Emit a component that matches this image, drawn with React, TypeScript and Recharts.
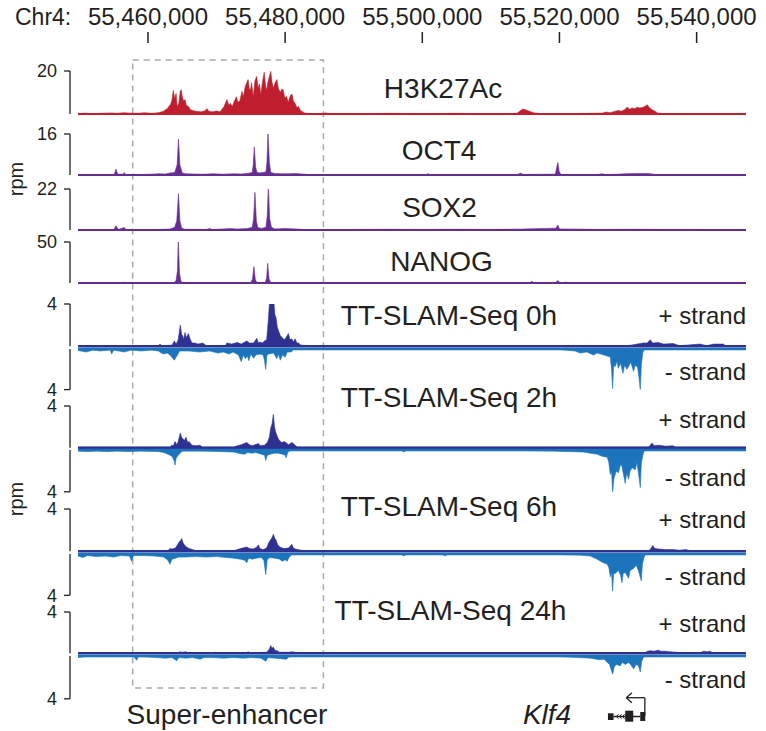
import React from 'react';
import {
  ComposedChart,
  Area,
  XAxis,
  YAxis,
  ReferenceLine,
  ReferenceArea,
} from 'recharts';

// genomic positions in kb on chr4
type Pt = [number, number];

const X_MIN = 55448.63;
const X_MAX = 55547.2;
const TRACK_START = 55449.8;
const TRACK_END = 55547.2;

const axisTicks = [55460, 55480, 55500, 55520, 55540];
const superEnhancer = [55457.77, 55485.58];
const klf4Exons: [number, number][] = [
  [55527.07, 55527.89],
  [55529.59, 55530.76],
  [55531.78, 55532.51],
];
const klf4Tss = 55532.45;

const h3k27ac: Pt[] = [
  [55449.8, 0.2], [55451.0, 0.4], [55451.5, 0.2], [55453.0, 0.3], [55454.5, 0.5], [55455.5, 0.3],
  [55456.5, 0.6], [55457.5, 0.4], [55458.5, 0.3], [55459.5, 0.6], [55460.5, 0.3], [55461.5, 0.6],
  [55462.2, 1.2], [55462.8, 2.5], [55463.3, 4.5], [55463.5, 6.5], [55463.7, 11.0], [55463.9, 7.0],
  [55464.1, 9.5], [55464.25, 3.5], [55464.5, 5.0], [55464.7, 10.5], [55464.85, 11.3], [55465.0, 8.0],
  [55465.2, 6.0], [55465.4, 6.7], [55465.6, 4.0], [55465.9, 3.5], [55466.2, 2.0], [55466.6, 1.5],
  [55467.2, 1.2], [55467.8, 1.0], [55468.3, 1.5], [55468.6, 2.5], [55468.9, 1.2], [55469.5, 1.0],
  [55470.0, 1.4], [55470.5, 1.0], [55470.75, 2.0], [55471.1, 3.5], [55471.5, 6.7], [55471.8, 4.0],
  [55472.0, 5.0], [55472.3, 3.5], [55472.6, 6.0], [55472.9, 8.0], [55473.1, 5.5], [55473.4, 6.0],
  [55473.7, 10.5], [55473.9, 8.0], [55474.2, 13.0], [55474.4, 14.5], [55474.6, 16.0], [55474.8, 11.0],
  [55475.0, 12.0], [55475.1, 14.5], [55475.35, 8.0], [55475.6, 15.5], [55475.85, 17.5], [55476.05, 12.0],
  [55476.25, 14.0], [55476.45, 9.0], [55476.7, 15.0], [55476.95, 19.4], [55477.15, 13.0], [55477.3, 11.0],
  [55477.5, 15.0], [55477.9, 19.8], [55478.1, 14.5], [55478.3, 12.0], [55478.55, 14.5], [55478.8, 16.0],
  [55479.0, 12.0], [55479.3, 10.0], [55479.5, 11.5], [55479.7, 11.3], [55479.95, 7.5], [55480.2, 8.2],
  [55480.45, 5.5], [55480.75, 8.5], [55481.0, 9.3], [55481.2, 6.0], [55481.45, 5.0], [55481.7, 3.0],
  [55481.95, 3.5], [55482.2, 1.8], [55482.45, 1.2], [55482.9, 0.4], [55483.5, 0.2], [55485.0, 0.2],
  [55486.0, 0.5], [55486.3, 0.2], [55490.0, 0.2], [55495.0, 0.3], [55500.0, 0.2], [55505.0, 0.3],
  [55510.0, 0.2], [55513.8, 0.3], [55514.3, 1.5], [55514.7, 2.3], [55515.2, 1.8], [55515.8, 1.0],
  [55516.2, 0.6], [55517.0, 0.2], [55522.0, 0.2], [55526.2, 0.4], [55526.8, 0.9], [55527.4, 0.6],
  [55528.0, 1.2], [55528.6, 1.6], [55529.0, 1.3], [55529.5, 2.0], [55529.9, 3.2], [55530.2, 2.2],
  [55530.6, 2.8], [55531.0, 2.5], [55531.3, 3.1], [55531.7, 2.8], [55532.1, 3.0], [55532.5, 3.6],
  [55532.8, 4.3], [55533.1, 3.0], [55533.5, 2.0], [55534.0, 1.2], [55534.3, 0.5], [55535.0, 0.2],
  [55547.2, 0.2],
];

const oct4: Pt[] = [
  [55449.8, 0.1], [55454.5, 0.2], [55455.1, 0.3], [55455.33, 2.3], [55455.6, 0.3], [55456.4, 0.3],
  [55456.54, 1.0], [55456.7, 0.2], [55458.0, 0.1], [55460.5, 0.3], [55461.5, 0.5], [55462.5, 0.4],
  [55463.3, 0.8], [55463.9, 1.0], [55464.25, 4.0], [55464.45, 14.0], [55464.65, 4.0], [55465.0, 0.8],
  [55465.5, 0.5], [55466.5, 0.4], [55468.0, 0.3], [55469.5, 0.5], [55471.0, 0.3], [55472.5, 0.5],
  [55473.5, 0.4], [55474.5, 0.6], [55475.2, 1.0], [55475.35, 4.0], [55475.5, 11.0], [55475.7, 3.0],
  [55475.9, 1.0], [55476.3, 0.8], [55477.2, 1.2], [55477.35, 5.0], [55477.5, 16.5], [55477.7, 5.0],
  [55477.9, 1.0], [55478.5, 0.6], [55479.5, 0.5], [55480.5, 0.5], [55481.5, 0.6], [55482.5, 0.4],
  [55483.5, 0.1], [55500.5, 0.1], [55500.85, 0.5], [55501.2, 0.1], [55513.8, 0.1], [55514.3, 0.7],
  [55514.8, 0.2], [55519.4, 0.3], [55519.6, 3.0], [55519.77, 4.9], [55519.95, 1.5], [55520.2, 0.2],
  [55525.5, 0.1], [55526.2, 0.5], [55526.8, 0.1], [55528.5, 0.3], [55529.5, 0.5], [55531.5, 0.6],
  [55533.0, 0.6], [55534.0, 0.2], [55547.2, 0.1],
];

const sox2: Pt[] = [
  [55449.8, 0.1], [55455.0, 0.2], [55455.33, 2.2], [55455.7, 0.3], [55456.54, 1.4], [55456.8, 0.2],
  [55459.0, 0.2], [55461.5, 0.3], [55463.2, 0.5], [55463.9, 1.5], [55464.2, 5.0], [55464.45, 19.5],
  [55464.65, 5.0], [55464.9, 1.2], [55465.3, 0.4], [55468.5, 0.3], [55469.0, 0.8], [55469.4, 0.2],
  [55471.0, 0.6], [55472.0, 0.8], [55473.0, 0.5], [55474.5, 0.8], [55475.2, 1.5], [55475.4, 6.0],
  [55475.6, 20.2], [55475.8, 5.0], [55476.0, 1.5], [55476.5, 0.8], [55477.2, 1.5], [55477.4, 8.0],
  [55477.55, 23.8], [55477.75, 6.0], [55478.0, 1.5], [55478.5, 0.6], [55480.0, 0.8], [55481.5, 0.6],
  [55482.5, 0.3], [55485.0, 0.1], [55490.0, 0.3], [55495.0, 0.4], [55500.0, 0.3], [55505.0, 0.4],
  [55510.0, 0.3], [55514.5, 0.5], [55519.5, 1.0], [55519.77, 2.7], [55520.0, 0.6], [55522.0, 0.5],
  [55526.0, 0.3], [55531.0, 0.4], [55536.0, 0.3], [55540.0, 0.3], [55547.2, 0.2],
];

const nanog: Pt[] = [
  [55449.8, 0.1], [55456.3, 0.1], [55456.54, 1.2], [55456.8, 0.1], [55463.8, 0.5], [55464.1, 3.0],
  [55464.3, 15.0], [55464.42, 53.0], [55464.6, 12.0], [55464.8, 2.0], [55465.1, 0.3], [55475.0, 0.5],
  [55475.25, 5.0], [55475.45, 20.0], [55475.65, 4.0], [55475.9, 0.5], [55477.1, 0.5], [55477.3, 6.0],
  [55477.46, 24.0], [55477.65, 5.0], [55477.9, 0.5], [55478.3, 0.1], [55515.6, 0.1], [55515.98, 2.0],
  [55516.3, 0.1], [55519.4, 0.3], [55519.77, 3.0], [55520.1, 0.2], [55521.0, 1.0], [55521.3, 0.1],
  [55547.2, 0.1],
];

const slam0hPlus: Pt[] = [
  [55449.8, 0.05], [55461.5, 0.05], [55461.75, 0.2], [55462.0, 0.05], [55463.5, 0.1], [55463.84, 0.5],
  [55464.1, 0.2], [55464.4, 0.6], [55464.71, 2.0], [55464.9, 1.1], [55465.06, 1.0], [55465.2, 0.6],
  [55465.4, 1.3], [55465.6, 0.8], [55465.88, 1.2], [55466.13, 0.7], [55466.4, 0.3], [55466.8, 0.3],
  [55467.3, 0.2], [55468.0, 0.3], [55468.5, 0.05], [55471.3, 0.05], [55471.5, 0.3], [55472.2, 0.2],
  [55473.0, 0.35], [55473.6, 0.2], [55474.4, 0.5], [55474.8, 0.3], [55475.4, 0.3], [55475.86, 0.75],
  [55476.1, 0.3], [55476.34, 0.4], [55476.7, 0.3], [55476.97, 0.5], [55477.3, 0.6], [55477.55, 2.5],
  [55477.7, 4.0], [55478.05, 4.05], [55478.38, 4.0], [55478.5, 3.0], [55478.67, 2.7], [55478.85, 1.8],
  [55479.01, 1.5], [55479.3, 1.0], [55479.51, 0.85], [55479.9, 0.6], [55480.2, 0.9], [55480.47, 1.2],
  [55480.7, 0.6], [55480.97, 0.7], [55481.2, 0.4], [55481.45, 0.7], [55481.7, 0.3], [55481.93, 0.3],
  [55482.3, 0.1], [55483.4, 0.05], [55530.0, 0.05], [55532.2, 0.3], [55532.8, 0.3], [55533.24, 0.6],
  [55533.6, 0.3], [55534.4, 0.35], [55535.2, 0.2], [55536.6, 0.25], [55537.5, 0.05], [55540.5, 0.2],
  [55541.5, 0.05], [55542.5, 0.2], [55543.9, 0.2], [55544.2, 0.05], [55547.2, 0.05],
];

const slam0hMinus: Pt[] = [
  [55449.8, -0.15], [55451.0, -0.3], [55452.0, -0.1], [55453.0, -0.2], [55454.5, -0.1], [55454.7, -0.5],
  [55455.0, -0.1], [55456.5, -0.3], [55457.6, -0.1], [55459.0, -0.2], [55460.5, -0.1], [55461.5, -0.2],
  [55462.2, -0.5], [55462.8, -0.4], [55463.2, -0.6], [55463.6, -0.9], [55463.84, -1.1], [55464.1, -0.8],
  [55464.3, -0.6], [55464.6, -0.2], [55466.0, -0.2], [55467.5, -0.3], [55469.0, -0.2], [55470.2, -0.4],
  [55471.0, -0.3], [55471.8, -0.5], [55472.4, -0.3], [55473.2, -0.6], [55473.6, -1.25], [55473.9, -0.6],
  [55474.2, -0.95], [55474.5, -0.7], [55474.7, -1.15], [55475.0, -0.5], [55475.4, -0.9], [55475.7, -0.6],
  [55476.3, -0.5], [55476.8, -0.6], [55477.0, -1.2], [55477.17, -2.0], [55477.35, -0.6], [55477.6, -0.5],
  [55478.3, -0.4], [55478.8, -0.95], [55479.0, -0.5], [55479.3, -1.1], [55479.6, -0.6], [55480.0, -0.8],
  [55480.3, -0.3], [55480.9, -0.3], [55481.2, -0.05], [55520.0, -0.05], [55522.3, -0.2], [55523.0, -0.4],
  [55524.0, -0.3], [55524.97, -0.6], [55525.5, -0.4], [55526.5, -0.6], [55527.41, -0.8], [55527.6, -2.0],
  [55527.75, -3.9], [55527.9, -1.7], [55528.14, -1.7], [55528.4, -1.2], [55528.58, -1.9], [55528.9, -1.4],
  [55529.26, -2.4], [55529.5, -1.6], [55529.84, -2.0], [55530.1, -1.7], [55530.4, -1.3], [55530.81, -2.2],
  [55531.05, -1.6], [55531.4, -1.8], [55531.6, -2.8], [55531.79, -4.1], [55531.95, -1.5], [55532.18, -0.3],
  [55532.4, -0.05], [55547.2, -0.05],
];

const slam2hPlus: Pt[] = [
  [55449.8, 0.05], [55463.2, 0.05], [55463.46, 0.25], [55463.7, 0.2], [55463.94, 0.6], [55464.2, 0.3],
  [55464.4, 0.6], [55464.71, 1.4], [55464.9, 1.0], [55465.06, 0.9], [55465.3, 0.7], [55465.54, 1.0],
  [55465.8, 0.5], [55466.0, 0.6], [55466.4, 0.25], [55467.0, 0.2], [55467.59, 0.25], [55467.9, 0.05],
  [55472.5, 0.05], [55473.0, 0.2], [55473.6, 0.3], [55474.0, 0.4], [55474.4, 0.5], [55474.8, 0.3],
  [55475.2, 0.2], [55475.6, 0.3], [55476.09, 0.4], [55476.4, 0.2], [55476.97, 0.25], [55477.4, 0.5],
  [55477.7, 1.0], [55477.9, 1.9], [55478.1, 2.3], [55478.28, 3.2], [55478.45, 2.0], [55478.6, 1.55],
  [55478.9, 1.0], [55479.1, 0.75], [55479.5, 0.5], [55479.9, 0.6], [55480.5, 0.3], [55480.97, 0.5],
  [55481.2, 0.4], [55481.45, 0.25], [55481.8, 0.05], [55533.0, 0.05], [55533.3, 0.3], [55533.49, 0.45],
  [55533.8, 0.2], [55534.5, 0.25], [55535.5, 0.15], [55536.5, 0.2], [55537.0, 0.05], [55547.2, 0.05],
];

const slam2hMinus: Pt[] = [
  [55449.8, -0.1], [55451.0, -0.15], [55452.5, -0.1], [55454.0, -0.15], [55455.5, -0.1], [55457.0, -0.15],
  [55459.0, -0.1], [55461.5, -0.15], [55462.3, -0.25], [55462.9, -0.4], [55463.5, -0.6], [55463.8, -1.0],
  [55463.94, -1.45], [55464.1, -0.8], [55464.4, -0.5], [55464.7, -0.3], [55465.0, -0.1], [55468.0, -0.1],
  [55470.5, -0.15], [55472.5, -0.2], [55473.5, -0.35], [55474.1, -0.4], [55474.5, -0.25], [55475.2, -0.3],
  [55475.7, -0.25], [55476.5, -0.4], [55477.0, -0.5], [55477.17, -1.0], [55477.4, -0.5], [55477.8, -0.4],
  [55478.4, -0.3], [55479.0, -0.3], [55479.6, -0.4], [55480.0, -0.5], [55480.14, -0.75], [55480.4, -0.2],
  [55480.8, -0.05], [55497.0, -0.05], [55497.3, -0.2], [55497.6, -0.05], [55515.0, -0.05], [55519.0, -0.1],
  [55523.5, -0.2], [55524.97, -0.35], [55525.5, -0.4], [55526.2, -0.6], [55526.97, -0.7], [55527.2, -1.2],
  [55527.41, -2.35], [55527.6, -2.0], [55527.75, -4.1], [55527.95, -2.7], [55528.3, -2.0], [55528.6, -2.2],
  [55528.9, -1.4], [55529.11, -1.55], [55529.35, -2.4], [55529.59, -3.2], [55529.8, -2.2], [55530.08, -2.8],
  [55530.3, -2.0], [55530.6, -1.7], [55531.05, -1.9], [55531.3, -1.2], [55531.6, -2.6], [55531.79, -3.6],
  [55531.95, -1.2], [55532.2, -0.4], [55532.4, -0.05], [55547.2, -0.05],
];

const slam6hPlus: Pt[] = [
  [55449.8, 0.05], [55462.9, 0.05], [55463.21, 0.25], [55463.5, 0.2], [55464.0, 0.3], [55464.3, 0.6],
  [55464.57, 0.9], [55464.75, 1.0], [55464.92, 1.2], [55465.1, 0.8], [55465.3, 0.6], [55465.6, 0.4],
  [55466.0, 0.25], [55466.5, 0.15], [55467.0, 0.05], [55472.5, 0.05], [55473.0, 0.15], [55473.8, 0.3],
  [55474.4, 0.4], [55474.8, 0.25], [55475.3, 0.2], [55475.8, 0.35], [55476.09, 0.6], [55476.3, 0.25],
  [55476.8, 0.15], [55477.3, 0.3], [55477.6, 0.8], [55477.9, 1.1], [55478.1, 1.3], [55478.28, 1.6],
  [55478.5, 1.2], [55478.67, 1.05], [55478.9, 0.6], [55479.2, 0.4], [55479.8, 0.25], [55480.5, 0.3],
  [55480.97, 0.65], [55481.2, 0.3], [55481.5, 0.2], [55482.3, 0.1], [55482.6, 0.05], [55533.0, 0.05],
  [55533.3, 0.2], [55533.63, 0.55], [55533.9, 0.25], [55534.5, 0.2], [55535.5, 0.15], [55536.6, 0.15],
  [55537.5, 0.1], [55538.5, 0.15], [55539.0, 0.05], [55547.2, 0.05],
];

const slam6hMinus: Pt[] = [
  [55449.8, -0.2], [55450.5, -0.35], [55451.2, -0.15], [55452.5, -0.25], [55453.8, -0.2], [55455.0, -0.3],
  [55456.0, -0.15], [55457.3, -0.2], [55457.62, -0.7], [55457.9, -0.15], [55459.5, -0.15], [55461.0, -0.2],
  [55462.3, -0.3], [55462.9, -0.6], [55463.21, -1.0], [55463.5, -0.5], [55464.0, -0.4], [55464.5, -0.3],
  [55465.5, -0.3], [55467.0, -0.25], [55468.5, -0.3], [55470.0, -0.25], [55471.5, -0.35], [55472.5, -0.4],
  [55473.5, -0.5], [55474.1, -0.6], [55474.4, -0.85], [55474.7, -0.4], [55475.2, -0.5], [55475.8, -0.4],
  [55476.5, -0.35], [55476.9, -0.6], [55477.17, -2.0], [55477.4, -0.5], [55477.8, -0.35], [55478.5, -0.4],
  [55479.2, -0.5], [55479.6, -0.7], [55480.0, -0.55], [55480.3, -0.7], [55480.6, -0.3], [55481.0, -0.05],
  [55497.0, -0.05], [55497.3, -0.2], [55497.6, -0.05], [55503.0, -0.05], [55503.3, -0.2], [55503.6, -0.05],
  [55520.0, -0.05], [55523.0, -0.1], [55524.5, -0.2], [55525.5, -0.5], [55526.24, -0.8], [55526.97, -1.0],
  [55527.2, -1.3], [55527.41, -2.2], [55527.6, -1.8], [55527.75, -3.6], [55527.9, -1.9], [55528.14, -1.9],
  [55528.58, -1.6], [55528.9, -2.0], [55529.11, -2.8], [55529.3, -1.9], [55529.59, -1.8], [55530.08, -2.35],
  [55530.3, -1.6], [55530.8, -1.4], [55531.2, -1.1], [55531.5, -1.6], [55531.93, -2.6], [55532.1, -1.0],
  [55532.3, -0.4], [55532.5, -0.05], [55547.2, -0.05],
];

const slam24hPlus: Pt[] = [
  [55449.8, 0.05], [55464.4, 0.05], [55464.67, 0.15], [55465.0, 0.1], [55465.54, 0.15], [55465.8, 0.05],
  [55469.6, 0.05], [55469.8, 0.1], [55470.2, 0.05], [55474.3, 0.05], [55474.6, 0.15], [55474.9, 0.05],
  [55477.3, 0.1], [55477.7, 0.4], [55477.9, 0.75], [55478.1, 0.5], [55478.28, 0.6], [55478.5, 0.3],
  [55478.8, 0.25], [55479.2, 0.1], [55480.5, 0.1], [55481.0, 0.15], [55481.5, 0.1], [55482.0, 0.05],
  [55532.5, 0.05], [55532.8, 0.2], [55533.3, 0.25], [55533.8, 0.2], [55534.41, 0.3], [55534.8, 0.2],
  [55535.4, 0.2], [55536.0, 0.15], [55537.2, 0.1], [55537.5, 0.05], [55540.5, 0.05], [55541.0, 0.2],
  [55541.5, 0.15], [55542.0, 0.2], [55542.3, 0.05], [55547.2, 0.05],
];

const slam24hMinus: Pt[] = [
  [55449.8, -0.15], [55451.0, -0.05], [55457.9, -0.05], [55458.35, -0.4], [55458.6, -0.05], [55460.0, -0.1],
  [55461.5, -0.15], [55462.5, -0.2], [55463.5, -0.15], [55464.19, -0.45], [55464.5, -0.15], [55465.5, -0.2],
  [55466.5, -0.15], [55467.59, -0.3], [55468.2, -0.15], [55469.5, -0.15], [55471.0, -0.2], [55472.5, -0.15],
  [55474.0, -0.2], [55475.0, -0.15], [55476.5, -0.2], [55477.17, -0.5], [55477.5, -0.15], [55478.5, -0.2],
  [55480.2, -0.3], [55480.5, -0.1], [55481.0, -0.05], [55520.0, -0.05], [55523.0, -0.15], [55524.5, -0.2],
  [55525.8, -0.35], [55526.5, -0.3], [55527.3, -0.8], [55527.75, -1.7], [55528.0, -1.0], [55528.3, -0.8],
  [55528.87, -0.9], [55529.2, -0.6], [55529.6, -0.8], [55530.1, -0.6], [55530.5, -0.9], [55530.81, -1.2],
  [55531.2, -0.8], [55531.5, -0.9], [55531.79, -1.5], [55532.0, -0.5], [55532.3, -0.05], [55547.2, -0.05],
];

const INK = '#231f20';
const RED = '#be1e2d';
const PURPLE = '#662d91';
const NAVY = '#2e3192';
const BLUE = '#1c75bc';
const FONT = '"Liberation Sans", Arial, Helvetica, sans-serif';
const W = 766;

const toRows = (pts: Pt[]) => pts.map(([x, v]) => ({ x, v }));
const fmtBp = (v: number) => Math.round(v * 1000).toLocaleString('en-US');

interface TrackProps {
  data: Pt[];
  top: number;
  bottom: number;
  max: number;
  color: string;
  negative?: boolean;
  line: number;
}

const Track: React.FC<TrackProps> = ({ data, top, bottom, max, color, negative, line }) => {
  const pad = 10;
  return (
    <div style={{ position: 'absolute', left: 0, top: top - pad }}>
      <ComposedChart
        width={W}
        height={bottom - top + pad * 2}
        data={toRows(data)}
        margin={{ top: pad, bottom: pad, left: 0, right: 20 }}
      >
        <XAxis type="number" dataKey="x" domain={[X_MIN, X_MAX]} hide allowDataOverflow />
        <YAxis
          width={70}
          type="number"
          domain={negative ? [-max, 0] : [0, max]}
          ticks={[negative ? -max : max]}
          interval={0}
          allowDataOverflow
          tickFormatter={(v) => String(Math.abs(v))}
          axisLine={{ stroke: INK, strokeWidth: 1.3 }}
          tickLine={{ stroke: INK, strokeWidth: 1.3 }}
          tickSize={6}
          tickMargin={7}
          tick={{ fill: INK, fontSize: 18 }}
        />
        <Area
          type="linear"
          dataKey="v"
          baseValue={0}
          fill={color}
          fillOpacity={1}
          stroke={color}
          strokeWidth={0.6}
          dot={false}
          activeDot={false}
          isAnimationActive={false}
        />
        <ReferenceLine
          segment={[{ x: TRACK_START, y: 0 }, { x: TRACK_END, y: 0 }]}
          stroke={color}
          strokeWidth={line}
        />
      </ComposedChart>
    </div>
  );
};

const tracks: TrackProps[] = [
  { data: h3k27ac, top: 71, bottom: 114, max: 20, color: RED, line: 2.2 },
  { data: oct4, top: 134, bottom: 175, max: 16, color: PURPLE, line: 2.2 },
  { data: sox2, top: 189, bottom: 230, max: 22, color: PURPLE, line: 2.2 },
  { data: nanog, top: 242, bottom: 283, max: 50, color: PURPLE, line: 2.2 },
  { data: slam0hPlus, top: 304, bottom: 346.2, max: 4, color: NAVY, line: 2.4 },
  { data: slam0hMinus, top: 348.7, bottom: 389.3, max: 4, color: BLUE, negative: true, line: 2.5 },
  { data: slam2hPlus, top: 406, bottom: 447.8, max: 4, color: NAVY, line: 2.4 },
  { data: slam2hMinus, top: 450.2, bottom: 492, max: 4, color: BLUE, negative: true, line: 2.5 },
  { data: slam6hPlus, top: 509, bottom: 551.2, max: 4, color: NAVY, line: 2.4 },
  { data: slam6hMinus, top: 553.7, bottom: 595, max: 4, color: BLUE, negative: true, line: 2.5 },
  { data: slam24hPlus, top: 612, bottom: 653.3, max: 4, color: NAVY, line: 2.4 },
  { data: slam24hMinus, top: 656.2, bottom: 699, max: 4, color: BLUE, negative: true, line: 2.5 },
];

const trackLabels = [
  { text: 'H3K27Ac', x: 443, y: 97.5 },
  { text: 'OCT4', x: 439, y: 160 },
  { text: 'SOX2', x: 439.5, y: 216.5 },
  { text: 'NANOG', x: 441.5, y: 270.5 },
  { text: 'TT-SLAM-Seq 0h', x: 449, y: 324.5 },
  { text: 'TT-SLAM-Seq 2h', x: 449, y: 406.5 },
  { text: 'TT-SLAM-Seq 6h', x: 449, y: 516 },
  { text: 'TT-SLAM-Seq 24h', x: 450.5, y: 620 },
];
const strandLabels = [
  { text: '+ strand', y: 323.5 },
  { text: '- strand', y: 380 },
  { text: '+ strand', y: 428 },
  { text: '- strand', y: 486 },
  { text: '+ strand', y: 528 },
  { text: '- strand', y: 585 },
  { text: '+ strand', y: 632 },
  { text: '- strand', y: 688 },
];

const App: React.FC = () => {
  return (
    <div
      style={{
        position: 'absolute',
        left: 0,
        top: 0,
        width: W,
        height: 731,
        background: '#fff',
        fontFamily: FONT,
      }}
    >
      {/* super-enhancer box */}
      <div style={{ position: 'absolute', left: 0, top: 0 }}>
        <ComposedChart width={W} height={731} data={[]} margin={{ top: 0, bottom: 0, left: 70, right: 20 }}>
          <XAxis type="number" dataKey="x" domain={[X_MIN, X_MAX]} hide allowDataOverflow />
          <YAxis type="number" domain={[0, 731]} reversed hide allowDataOverflow />
          <ReferenceArea
            x1={superEnhancer[0]}
            x2={superEnhancer[1]}
            y1={60}
            y2={688}
            fill="none"
            stroke="#a7a9ac"
            strokeWidth={1.5}
            strokeDasharray="6 5"
          />
        </ComposedChart>
      </div>

      {/* coordinate axis */}
      <div style={{ position: 'absolute', left: 0, top: 0 }}>
        <ComposedChart width={W} height={50} data={[]} margin={{ top: 0, bottom: 0, left: 70, right: 20 }}>
          <XAxis
            orientation="top"
            type="number"
            dataKey="x"
            domain={[X_MIN, X_MAX]}
            ticks={axisTicks}
            interval={0}
            height={43}
            axisLine={false}
            tickSize={11}
            tickMargin={7}
            tickLine={{ stroke: INK, strokeWidth: 1.5 }}
            tick={{ fill: INK, fontSize: 24 }}
            tickFormatter={fmtBp}
            allowDataOverflow
          />
          <YAxis type="number" domain={[0, 1]} hide />
        </ComposedChart>
      </div>

      {tracks.map((t, i) => (
        <Track key={i} {...t} />
      ))}

      {/* Klf4 gene model */}
      <div style={{ position: 'absolute', left: 0, top: 690 }}>
        <ComposedChart width={W} height={41} data={[]} margin={{ top: 0, bottom: 0, left: 70, right: 20 }}>
          <XAxis type="number" dataKey="x" domain={[X_MIN, X_MAX]} hide allowDataOverflow />
          <YAxis type="number" domain={[690, 731]} reversed hide allowDataOverflow />
          <ReferenceLine
            segment={[{ x: klf4Exons[0][1], y: 716.5 }, { x: klf4Exons[2][0], y: 716.5 }]}
            stroke={INK}
            strokeWidth={1.5}
          />
          {[55528.3, 55528.75, 55529.2].map((c) => (
            <ReferenceLine
              key={c}
              segment={[{ x: c + 0.3, y: 714.3 }, { x: c, y: 716.5 }]}
              stroke={INK}
              strokeWidth={1}
            />
          ))}
          {[55528.3, 55528.75, 55529.2].map((c) => (
            <ReferenceLine
              key={'b' + c}
              segment={[{ x: c, y: 716.5 }, { x: c + 0.3, y: 718.7 }]}
              stroke={INK}
              strokeWidth={1}
            />
          ))}
          <ReferenceArea x1={klf4Exons[0][0]} x2={klf4Exons[0][1]} y1={713.3} y2={720} fill={INK} fillOpacity={1} stroke="none" />
          <ReferenceArea x1={klf4Exons[1][0]} x2={klf4Exons[1][1]} y1={710.7} y2={721.7} fill={INK} fillOpacity={1} stroke="none" />
          <ReferenceArea x1={klf4Exons[2][0]} x2={klf4Exons[2][1]} y1={712} y2={721} fill={INK} fillOpacity={1} stroke="none" />
          <ReferenceLine segment={[{ x: klf4Tss, y: 716 }, { x: klf4Tss, y: 697.7 }]} stroke={INK} strokeWidth={1.3} />
          <ReferenceLine segment={[{ x: klf4Tss, y: 697.7 }, { x: 55529.74, y: 697.7 }]} stroke={INK} strokeWidth={1.3} />
          <ReferenceLine segment={[{ x: 55529.74, y: 697.7 }, { x: 55530.57, y: 692.7 }]} stroke={INK} strokeWidth={1.3} />
          <ReferenceLine segment={[{ x: 55529.74, y: 697.7 }, { x: 55530.57, y: 702.7 }]} stroke={INK} strokeWidth={1.3} />
        </ComposedChart>
      </div>

      <svg
        width={W}
        height={731}
        style={{ position: 'absolute', left: 0, top: 0, pointerEvents: 'none' }}
        fontFamily={FONT}
        fill={INK}
      >
        <text x={15} y={25} fontSize={23}>Chr4:</text>
        {trackLabels.map((l) => (
          <text key={l.text} x={l.x} y={l.y} fontSize={28} textAnchor="middle">
            {l.text}
          </text>
        ))}
        {strandLabels.map((l, i) => (
          <text key={i} x={746} y={l.y} fontSize={24} textAnchor="end">
            {l.text}
          </text>
        ))}
        <text x={23} y={179} fontSize={20} textAnchor="middle" transform="rotate(-90 23 179)">rpm</text>
        <text x={23} y={499} fontSize={20} textAnchor="middle" transform="rotate(-90 23 499)">rpm</text>
        <text x={227} y={724} fontSize={28} textAnchor="middle">Super-enhancer</text>
        <text x={547} y={724} fontSize={28} textAnchor="middle" fontStyle="italic">Klf4</text>
      </svg>
    </div>
  );
};

export default App;
